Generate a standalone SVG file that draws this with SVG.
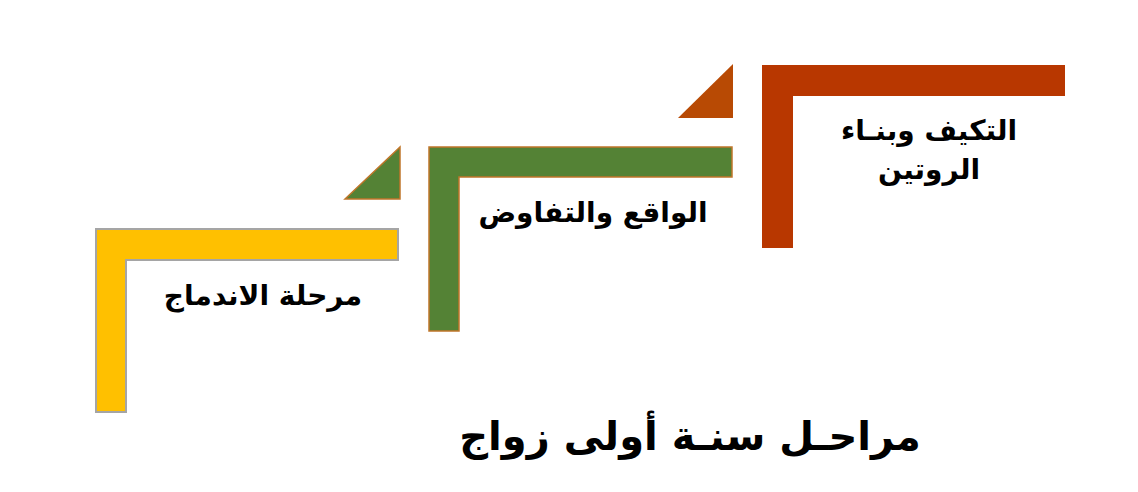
<svg xmlns="http://www.w3.org/2000/svg" width="1138" height="492" viewBox="0 0 1138 492">
<style>
.t{font-family:"DejaVu Sans","Noto Sans",sans-serif;font-weight:bold;fill:#000;text-anchor:middle;direction:rtl}
.s{font-size:28px}
.title{font-size:40px}
</style>
<rect width="1138" height="492" fill="#fff"/>
<g id="stage1">
<path d="M96,229 H398 V260 H126 V412 H96 Z" fill="#ffc000" stroke="#a5a5a5" stroke-width="2"/>
<text class="t s" x="263" y="305">مرحلة الاندماج</text>
</g>
<g id="stage2">
<path d="M345,199 L400,147 V199 Z" fill="#548235" stroke="#c0762a" stroke-width="1.5"/>
<path d="M429,147 H732 V177 H459 V331 H429 Z" fill="#548235" stroke="#c0762a" stroke-width="1.5"/>
<text class="t s" x="593" y="222">الواقع والتفاوض</text>
</g>
<g id="stage3">
<path d="M678,118 L733,64 V118 Z" fill="#b84a04"/>
<path d="M762,65 H1065 V96 H793 V248 H762 Z" fill="#b83700"/>
<text class="t s" x="929" y="140">التكيف وبنـاء</text>
<text class="t s" x="929" y="179">الروتين</text>
</g>
<g id="title">
<text class="t title" x="690" y="450">مراحـل سنـة أولى زواج</text>
</g>
<g id="connectors"></g>
</svg>
